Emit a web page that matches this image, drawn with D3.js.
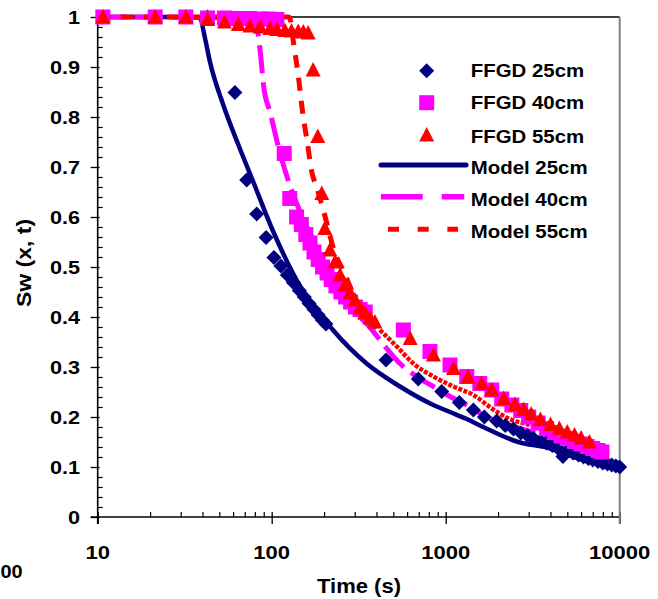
<!DOCTYPE html>
<html><head><meta charset="utf-8">
<script src="https://cdn.jsdelivr.net/npm/d3@7/dist/d3.min.js"></script>
<style>body{margin:0;background:#fff}svg{display:block}</style>
</head><body>
<svg id="c" width="658" height="599"></svg>
<script>
// ---------- DATA ----------
const xMajor = [10, 100, 1000, 10000];
const xMajorLabels = ["10", "100", "1000", "10000"];
const xMinor = [20,30,40,50,60,70,80,90,200,300,400,500,600,700,800,900,2000,3000,4000,5000,6000,7000,8000,9000];
const yMajor = [0,0.1,0.2,0.3,0.4,0.5,0.6,0.7,0.8,0.9,1];
const yMajorLabels = ["0","0.1","0.2","0.3","0.4","0.5","0.6","0.7","0.8","0.9","1"];
const yMinor = d3.range(0, 50).map(i => i * 0.02).filter((v, i) => i % 5 !== 0);

const legendNames = ["FFGD 25cm","FFGD 40cm","FFGD 55cm","Model 25cm","Model 40cm","Model 55cm"];
const xTitle = "Time (s)";
const yTitle = "Sw (x, t)";
const strayLabel = "00";

// FFGD 25cm (diamonds)
const ffgd25Time = [10.7,21.4,32.1,42.8,61.5,71.8,82,92.8,103,113,123,133,144,154,164,175,185,195,205,
  454,696,948,1197,1442,1668,1964,2200,2450,2700,2950,3200,3500,3800,4100,4400,4720,5000,5400,5800,6200,6600,7000,7500,8000,8500,9000,9500,10000];
const ffgd25Sw = [1,1,1,1,0.849,0.674,0.606,0.559,0.519,0.502,0.484,0.469,0.453,0.44,0.427,0.415,0.404,0.394,0.386,
  0.314,0.276,0.251,0.229,0.214,0.2,0.192,0.183,0.176,0.168,0.163,0.157,0.152,0.148,0.143,0.138,0.121,0.132,0.128,0.124,0.12,0.117,0.114,0.111,0.108,0.106,0.104,0.102,0.1];

// FFGD 40cm (squares)
const ffgd40Time = [10.7,21.4,32.1,42.8,53.5,64.2,74.9,85.6,96.3,107,118,127,139,148,157,166,175,185,196,208,220,234,250,266,284,303,322,345,
  571,812,1059,1321,1570,1840,2100,2400,2700,3000,3400,3800,4200,4600,5000,5500,6000,6500,7000,7500,7900];
const ffgd40Sw = [1,1,1,0.998,0.998,0.997,0.997,0.996,0.996,0.995,0.727,0.637,0.6,0.585,0.565,0.548,0.53,0.515,0.5,0.488,0.475,0.462,0.45,0.44,0.43,0.42,0.415,0.41,
  0.374,0.331,0.304,0.281,0.267,0.254,0.236,0.224,0.213,0.2,0.188,0.177,0.169,0.162,0.157,0.151,0.146,0.141,0.137,0.133,0.13];

// FFGD 55cm (triangles)
const ffgd55Time = [10.7,21.4,32.1,42.8,53.5,64.3,75,85.8,97.8,107,119,130,142,152,162,173,184,194,202,216,231,247,264,282,301,321,343,367,392,
  625,850,1110,1345,1610,1840,2155,2500,2800,3100,3500,4000,4500,5000,5500,6000,6700];
const ffgd55Sw = [1,1,1,0.995,0.99,0.985,0.982,0.98,0.977,0.975,0.973,0.972,0.971,0.97,0.968,0.894,0.761,0.647,0.577,0.534,0.51,0.484,0.464,0.448,0.434,0.418,0.408,0.398,0.39,
  0.357,0.324,0.297,0.28,0.267,0.254,0.237,0.225,0.215,0.206,0.195,0.185,0.177,0.17,0.164,0.158,0.15];

// Model 25cm
const model25Time = [10,35,38.7,41.4,44.2,52.7,64.4,78.2,102,139,225,351,546,849,1059,1321,1644,2560,3981,6180,10000];
const model25Sw = [1,1,0.997,0.957,0.91,0.824,0.744,0.671,0.571,0.474,0.374,0.307,0.261,0.224,0.21,0.196,0.18,0.151,0.137,0.114,0.1];

// Model 40cm
const model40Time = [10,80,84,86,90,97.8,111,127,150,175,200,225,250,282,351,458,546,681,849,1059,1321,1721,2500,4000,6000,8000];
const model40Sw = [1,0.998,0.96,0.93,0.86,0.81,0.731,0.664,0.6,0.55,0.5,0.465,0.44,0.418,0.387,0.337,0.307,0.281,0.261,0.241,0.224,0.2,0.18,0.16,0.14,0.128];

// Model 55cm
const model55Time = [10,125,127,134,142,150,160,170,181,198,230,260,300,350,419,523,651,849,1106,1442,1878,2290,3000,4000,5500,7000,8710];
const model55Sw = [1,1,0.998,0.944,0.884,0.814,0.75,0.69,0.66,0.614,0.53,0.49,0.44,0.4,0.374,0.341,0.307,0.281,0.261,0.244,0.215,0.197,0.185,0.17,0.155,0.14,0.131];

// ---------- STYLE ----------
const NAVY = "#000080", MAG = "#FF00FF", RED = "#FF0000";
const FONT = "'Liberation Sans', Arial, Helvetica, sans-serif";

const svg = d3.select("#c");
const x = d3.scaleLog().domain([10, 10000]).range([97.7, 619.7]);
const y = d3.scaleLinear().domain([0, 1]).range([517, 17]);

function sText(parent, px, py, str, size, sx, anchor, rot) {
  const g = parent.append("g").attr("transform", `translate(${px},${py})` + (rot ? ` rotate(${rot})` : "") + ` scale(${sx},1)`);
  g.append("text").attr("x", 0).attr("y", 0).attr("text-anchor", anchor)
    .attr("font-family", FONT).attr("font-weight", "bold").attr("font-size", size).attr("fill", "#000").text(str);
  return g;
}

// ---------- AXES ----------
const axes = svg.append("g");
// minor ticks (inside)
axes.append("g").attr("transform", `translate(0,${y(0)})`)
  .call(d3.axisBottom(x).tickValues(xMinor).tickSize(-5).tickFormat(""))
  .call(g => { g.select(".domain").remove(); g.selectAll(".tick line").attr("stroke", "#000").attr("stroke-width", 1.2); });
axes.append("g").attr("transform", `translate(${x(10)},0)`)
  .call(d3.axisLeft(y).tickValues(yMinor).tickSize(-5).tickFormat(""))
  .call(g => { g.select(".domain").remove(); g.selectAll(".tick line").attr("stroke", "#000").attr("stroke-width", 1.2); });
// major ticks (crossing)
axes.append("g").attr("transform", `translate(0,${y(0)})`)
  .call(d3.axisBottom(x).tickValues(xMajor).tickSize(7).tickFormat(""))
  .call(g => { g.select(".domain").remove(); g.selectAll(".tick line").attr("y1", -5).attr("y2", 7).attr("stroke", "#000").attr("stroke-width", 1.3); });
axes.append("g").attr("transform", `translate(${x(10)},0)`)
  .call(d3.axisLeft(y).tickValues(yMajor).tickSize(7).tickFormat(""))
  .call(g => { g.select(".domain").remove(); g.selectAll(".tick line").attr("x1", 2).attr("x2", -7).attr("stroke", "#000").attr("stroke-width", 1.3); });

// frame
axes.append("line").attr("x1", x(10)).attr("x2", x(10)).attr("y1", y(1)).attr("y2", y(0) + 7).attr("stroke", "#000").attr("stroke-width", 1.6);
axes.append("line").attr("x1", x(10) - 7).attr("x2", x(10000)).attr("y1", y(0)).attr("y2", y(0)).attr("stroke", "#000").attr("stroke-width", 1.6);
axes.append("line").attr("x1", x(10)).attr("x2", x(10000)).attr("y1", y(1)).attr("y2", y(1)).attr("stroke", "#000").attr("stroke-width", 1.3);
axes.append("line").attr("x1", x(10000)).attr("x2", x(10000)).attr("y1", y(1)).attr("y2", y(0) + 7).attr("stroke", "#808080").attr("stroke-width", 2);

// tick labels
yMajor.forEach((v, i) => sText(svg, 80, y(v) + 6.8, yMajorLabels[i], 19, 1.14, "end"));
xMajor.forEach((v, i) => sText(svg, x(v), 559, xMajorLabels[i], 19, 1.16, "middle"));
sText(svg, 0.5, 578.3, strayLabel, 19, 1.05, "start");

// axis titles
sText(svg, 359, 593, xTitle, 20, 1.1, "middle");
sText(svg, 31, 263, yTitle, 20, 1.15, "middle", -90);

// ---------- LINES ----------
const line = d3.line().x(d => x(d[0])).y(d => y(d[1])).curve(d3.curveMonotoneX);
const m25 = d3.zip(model25Time, model25Sw);
const m40 = d3.zip(model40Time, model40Sw);
const m55 = d3.zip(model55Time, model55Sw);
const lines = svg.append("g").attr("fill", "none");
lines.append("path").attr("d", line(m25)).attr("stroke", NAVY).attr("stroke-width", 4.5).attr("stroke-linejoin", "round");
lines.append("path").attr("d", line(m40)).attr("stroke", MAG).attr("stroke-width", 5).attr("stroke-dasharray", "28,9");
const split = 419;
lines.append("path").attr("d", line(m55.filter(d => d[0] <= split))).attr("stroke", RED).attr("stroke-width", 5).attr("stroke-dasharray", "13,10");
lines.append("path").attr("d", line(m55.filter(d => d[0] >= split))).attr("stroke", RED).attr("stroke-width", 4.5).attr("stroke-dasharray", "4,1.5");

// ---------- MARKERS ----------
const diamond = "M0,-7.5L7.5,0L0,7.5L-7.5,0Z";
const square = "M-7.5,-7.5H7.5V7.5H-7.5Z";
const triangle = "M0,-8L7.5,6.5L-7.5,6.5Z";
function markers(ts, ss, shape, color) {
  svg.append("g").selectAll("path").data(d3.zip(ts, ss)).join("path")
    .attr("transform", d => `translate(${x(d[0])},${y(d[1])})`)
    .attr("d", shape).attr("fill", color);
}
markers(ffgd25Time, ffgd25Sw, diamond, NAVY);
markers(ffgd40Time, ffgd40Sw, square, MAG);
markers(ffgd55Time, ffgd55Sw, triangle, RED);

// ---------- LEGEND ----------
const leg = svg.append("g");
const legX = 426.7, legTextX = 470.7;
const legRowY = [70.7, 102.7, 135, 165, 196.7, 229.3];
const legBase = [77.3, 109.3, 142.7, 174, 206, 238.3];
leg.append("path").attr("transform", `translate(${legX},${legRowY[0]})`).attr("d", diamond).attr("fill", NAVY);
leg.append("path").attr("transform", `translate(${legX},${legRowY[1]})`).attr("d", square).attr("fill", MAG);
leg.append("path").attr("transform", `translate(${legX},${legRowY[2]})`).attr("d", triangle).attr("fill", RED);
leg.append("line").attr("x1", 381).attr("x2", 466).attr("y1", legRowY[3]).attr("y2", legRowY[3]).attr("stroke", NAVY).attr("stroke-width", 5).attr("stroke-linecap", "round");
leg.append("line").attr("x1", 381).attr("x2", 465).attr("y1", legRowY[4]).attr("y2", legRowY[4]).attr("stroke", MAG).attr("stroke-width", 5.5).attr("stroke-dasharray", "41.7,19,22.6");
leg.append("line").attr("x1", 388).attr("x2", 458).attr("y1", legRowY[5]).attr("y2", legRowY[5]).attr("stroke", RED).attr("stroke-width", 5).attr("stroke-dasharray", "11,18.7");
legendNames.forEach((n, i) => sText(leg, legTextX, legBase[i], n, 19, 1.075, "start"));
</script>
</body></html>
